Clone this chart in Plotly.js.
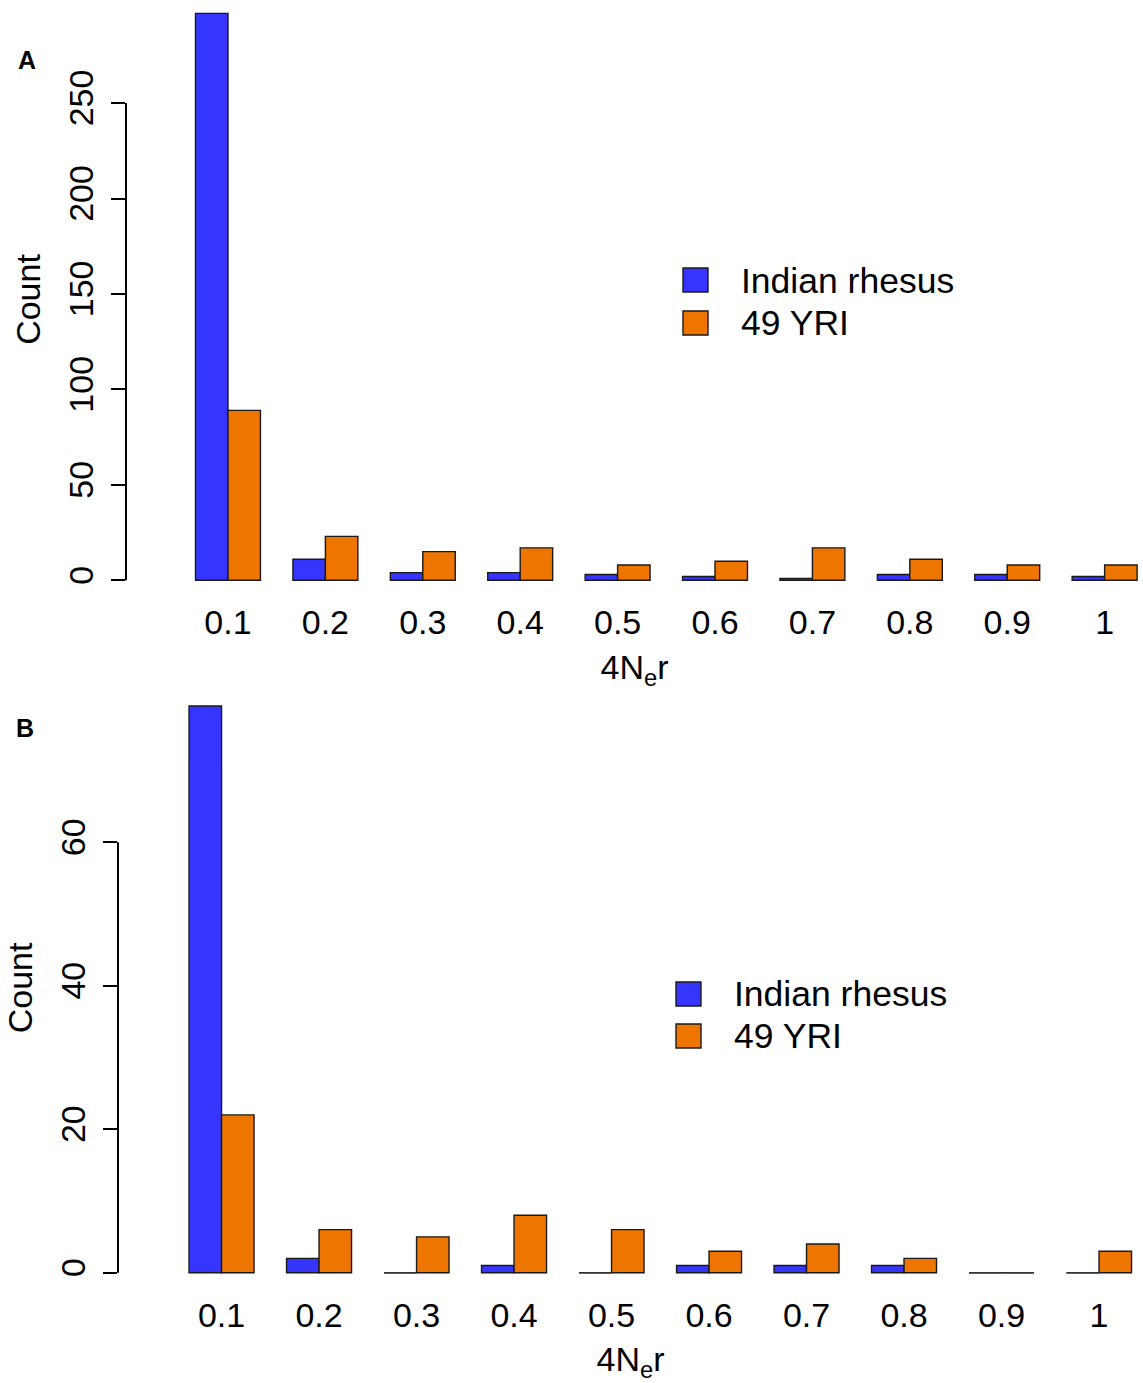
<!DOCTYPE html>
<html>
<head>
<meta charset="utf-8">
<script src="https://cdn.plot.ly/plotly-3.0.1.min.js"></script>
<style>
  html, body { margin: 0; padding: 0; background: #ffffff; }
  #chart { width: 1143px; height: 1383px; }
</style>
</head>
<body>
<div id="chart"></div>
<script>
// ---- data ----
const categories = ['0.1', '0.2', '0.3', '0.4', '0.5', '0.6', '0.7', '0.8', '0.9', '1'];
const seriesNames = ['Indian rhesus', '49 YRI'];
const rhesusA = [297, 11, 4, 4, 3, 2, 1, 3, 3, 2];
const yriA    = [89, 23, 15, 17, 8, 10, 17, 11, 8, 8];
const rhesusB = [79, 2, 0, 1, 0, 1, 1, 1, 0, 0];
const yriB    = [22, 6, 5, 8, 6, 3, 4, 2, 0, 3];
const yTicksA = [0, 50, 100, 150, 200, 250];
const yTicksB = [0, 20, 40, 60];
const panelLabels = ['A', 'B'];
const xTitle = '4N<sub>e</sub>r';
const yTitle = 'Count';

// ---- styling ----
const W = 1143, H = 1383;
const BLUE = '#3535ff', ORANGE = '#ee7600';
const FONT = 'Liberation Sans, Arial, Helvetica, sans-serif';
const FS = 34;
const px = v => v / W;
const py = v => 1 - v / H;

function barTrace(name, vals, color, xa, ya) {
  return {
    type: 'bar', name: name, x: categories, y: vals, xaxis: xa, yaxis: ya,
    marker: { color: color, line: { color: '#1a1a1a', width: 1.4 } },
    showlegend: false, hoverinfo: 'skip'
  };
}

const data = [
  barTrace(seriesNames[0], rhesusA, BLUE, 'x', 'y'),
  barTrace(seriesNames[1], yriA, ORANGE, 'x', 'y'),
  barTrace(seriesNames[0], rhesusB, BLUE, 'x2', 'y2'),
  barTrace(seriesNames[1], yriB, ORANGE, 'x2', 'y2')
];

function xAxis(domainLeftPx, rangeL, rangeR, anchor, standoff) {
  return {
    type: 'category', domain: [px(domainLeftPx), 1], range: [rangeL, rangeR],
    anchor: anchor, showline: false, showgrid: false, zeroline: false, ticks: '', ticklen: 0,
    tickfont: { family: FONT, size: FS, color: '#000' }, ticklabelstandoff: 0,
    title: { text: xTitle, font: { family: FONT, size: FS, color: '#000' }, standoff: standoff }
  };
}
function yAxis(domain, range, ticks, anchor) {
  return {
    domain: domain, range: range, anchor: anchor, tickvals: ticks, ticktext: ticks.map(String),
    showline: false, showgrid: false, zeroline: false,
    ticks: 'outside', ticklen: 14, tickwidth: 2, tickcolor: '#000', tickangle: -90,
    tickfont: { family: FONT, size: FS, color: '#000' }, ticklabelstandoff: 4,
    title: { text: yTitle, font: { family: FONT, size: FS, color: '#000' }, standoff: 11 }
  };
}

const shapes = [];
// y-axis lines spanning the tick range only (R style)
[['y', 'x', yTicksA], ['y2', 'x2', yTicksB]].forEach(([ya, xa, t]) => {
  shapes.push({ type: 'line', xref: xa + ' domain', yref: ya, x0: 0, x1: 0,
    y0: Math.min(...t), y1: Math.max(...t), line: { color: '#000', width: 2 } });
});
// zero-height bars are drawn as a flat outline in R
[[rhesusA, -1 / 3, 'x', 'y'], [yriA, 0, 'x', 'y'], [rhesusB, -1 / 3, 'x2', 'y2'], [yriB, 0, 'x2', 'y2']]
  .forEach(([vals, off, xa, ya]) => {
    vals.forEach((v, k) => {
      if (v === 0) shapes.push({ type: 'line', xref: xa, yref: ya, x0: k + off, x1: k + off + 1 / 3,
        y0: 0, y1: 0, line: { color: '#333', width: 1.6 } });
    });
  });

// legend swatches (R style large squares)
const annotations = [];
const legends = [
  { sx: 683, sy: [268, 311], tx: 739, ty: [281, 323] },
  { sx: 676, sy: [982, 1024], tx: 732, ty: [994, 1036] }
];
const colors = [BLUE, ORANGE];
legends.forEach(L => {
  [0, 1].forEach(i => {
    shapes.push({ type: 'rect', xref: 'paper', yref: 'paper',
      x0: px(L.sx), x1: px(L.sx + 25), y0: py(L.sy[i]), y1: py(L.sy[i] + 24),
      fillcolor: colors[i], line: { color: '#1a1a1a', width: 1.4 } });
    annotations.push({ xref: 'paper', yref: 'paper', x: px(L.tx), y: py(L.ty[i]),
      xanchor: 'left', yanchor: 'middle', showarrow: false, text: seriesNames[i],
      font: { family: FONT, size: 35.5, color: '#000' } });
  });
});
// panel letters
annotations.push({ xref: 'paper', yref: 'paper', x: px(27), y: py(60), xanchor: 'center', yanchor: 'middle',
  showarrow: false, text: '<b>' + panelLabels[0] + '</b>', font: { family: FONT, size: 25, color: '#000' } });
annotations.push({ xref: 'paper', yref: 'paper', x: px(25), y: py(728), xanchor: 'center', yanchor: 'middle',
  showarrow: false, text: '<b>' + panelLabels[1] + '</b>', font: { family: FONT, size: 25, color: '#000' } });

const layout = {
  width: W, height: H,
  margin: { l: 0, r: 0, t: 0, b: 0 },
  paper_bgcolor: '#fff', plot_bgcolor: '#fff',
  font: { family: FONT, color: '#000' },
  barmode: 'group', bargap: 1 / 3, bargroupgap: 0,
  showlegend: false,
  xaxis: xAxis(126, -1.047, 9.394, 'y', 15),
  yaxis: yAxis([py(599), 1], [-9.8, 304], yTicksA, 'x'),
  xaxis2: xAxis(118, -1.062, 9.451, 'y2', 19),
  yaxis2: yAxis([py(1292.4), py(683.4)], [-2.746, 82.16], yTicksB, 'x2'),
  shapes: shapes,
  annotations: annotations
};

Plotly.newPlot('chart', data, layout, { displayModeBar: false, staticPlot: true });
</script>
</body>
</html>
